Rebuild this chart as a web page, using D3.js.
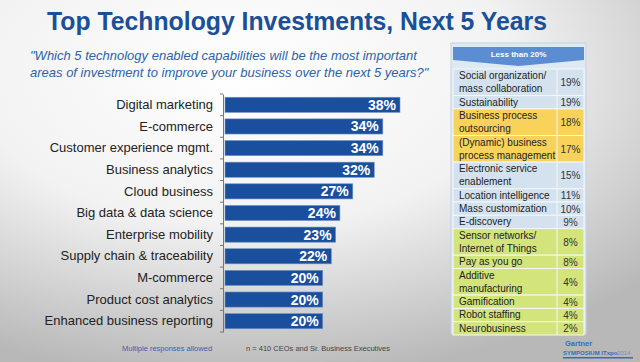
<!DOCTYPE html>
<html>
<head>
<meta charset="utf-8">
<script src="https://cdn.jsdelivr.net/npm/d3@7"></script>
<style>
  body { margin: 0; padding: 0; overflow: hidden; }
  svg { display: block; font-family: "Liberation Sans", Arial, sans-serif; }
</style>
</head>
<body>
<svg id="chart" width="640" height="362"></svg>
<script>
// main bars
const categories = ["Digital marketing", "E-commerce", "Customer experience mgmt.", "Business analytics",
  "Cloud business", "Big data & data science", "Enterprise mobility", "Supply chain & traceability",
  "M-commerce", "Product cost analytics", "Enhanced business reporting"]
const values = [38, 34, 34, 32, 27, 24, 23, 22, 20, 20, 20]

// side table "Less than 20%"
const sideItems = [["Social organization/", "mass collaboration"], ["Sustainability"],
  ["Business process", "outsourcing"], ["(Dynamic) business", "process management"],
  ["Electronic service", "enablement"], ["Location intelligence"], ["Mass customization"],
  ["E-discovery"], ["Sensor networks/", "Internet of Things"], ["Pay as you go"],
  ["Additive", "manufacturing"], ["Gamification"], ["Robot staffing"], ["Neurobusiness"]]
const sideValues = [19, 19, 18, 17, 15, 11, 10, 9, 8, 8, 4, 4, 4, 2]
const sideGroup = ["b", "b", "y", "y", "b", "b", "b", "b", "g", "g", "g", "g", "g", "g"]

const groupColor = {b: "#d3e2ee", y: "#f8d25a", g: "#d2e47a"}

let svg = d3.select("#chart")

// background
let defs = svg.append("defs")
let grad = defs.append("radialGradient").attr("id", "bg")
    .attr("cx", "38%").attr("cy", "20%").attr("r", "85%")
grad.append("stop").attr("offset", "0%").attr("stop-color", "#ffffff")
grad.append("stop").attr("offset", "50%").attr("stop-color", "#f2f2f2")
grad.append("stop").attr("offset", "100%").attr("stop-color", "#b8b8b8")
svg.append("rect").attr("width", 640).attr("height", 362).attr("fill", "url(#bg)")

// title
svg.append("text")
    .attr("x", 297).attr("y", 30)
    .attr("text-anchor", "middle")
    .attr("textLength", 500).attr("lengthAdjust", "spacingAndGlyphs")
    .style("font-size", "26px").style("font-weight", "bold").style("fill", "#1b4f97")
    .text("Top Technology Investments, Next 5 Years")

// question
let q = svg.append("text").style("font-size", "13px").style("font-style", "italic").style("fill", "#2b63aa")
q.append("tspan").attr("x", 30).attr("y", 60)
    .text("\"Which 5 technology enabled capabilities will be the most important")
q.append("tspan").attr("x", 30).attr("y", 77)
    .text("areas of investment to improve your business over the next 5 years?\"")

// scales
let y = d3.scaleBand().domain(categories).range([94, 332]).paddingInner(0.3).paddingOuter(0.15)
let x = d3.scaleLinear().domain([-3, 38]).range([224, 400])

let plot = svg.append("g")

plot.selectAll(".bar")
    .data(values)
    .enter()
    .append("rect")
    .attr("class", "bar")
    .attr("x", x(-3) + 1)
    .attr("y", (d, i) => y(categories[i]))
    .attr("width", d => x(d) - x(-3) - 1)
    .attr("height", y.bandwidth())
    .style("fill", "#1a4f9e")
    .style("stroke", "#6f93c8").style("stroke-width", 0.6)

plot.selectAll(".val")
    .data(values)
    .enter()
    .append("text")
    .attr("x", d => x(d) - 4)
    .attr("y", (d, i) => y(categories[i]) + y.bandwidth() / 2 + 5)
    .attr("text-anchor", "end")
    .style("font-size", "14px").style("font-weight", "bold").style("fill", "#ffffff")
    .text(d => d + "%")

// y axis with category labels
let y_axis = d3.axisLeft(y).tickSize(0).tickPadding(10)
let ax = plot.append("g").attr("transform", `translate(${x(-3) - 1},0)`).call(y_axis)
ax.select(".domain").attr("stroke", "#777")
ax.selectAll("text").style("font-size", "13px").style("fill", "#222")
    .style("font-family", "'Liberation Sans', Arial, sans-serif")
// ticks between the bars
let bounds = categories.map(c => y(c) - y.step() * y.paddingInner() / 2)
bounds.push(y(categories[categories.length - 1]) + y.bandwidth() + y.step() * y.paddingInner() / 2)
ax.selectAll(".sep").data(bounds).enter().append("line")
    .attr("x1", -3).attr("x2", 0).attr("y1", d => d).attr("y2", d => d)
    .attr("stroke", "#777")

// footnotes
svg.append("text").attr("x", 122).attr("y", 351)
    .style("font-size", "7.5px").style("fill", "#3b62b0").text("Multiple responses allowed")
svg.append("text").attr("x", 246).attr("y", 351)
    .style("font-size", "7.5px").style("fill", "#444").text("n = 410 CEOs and Sr. Business Executives")

// side table
const tx = 453, tw = 131, colX = 557, lineH = 13.3
let side = svg.append("g")
side.append("rect").attr("x", tx - 2).attr("y", 43).attr("width", tw + 4).attr("height", 291)
    .attr("fill", "#dfe9f2").attr("stroke", "#c4d2df")
side.append("path")
    .attr("d", `M${tx},47 H${tx + tw} V60 L${tx + tw / 2},66 L${tx},60 Z`)
    .attr("fill", "#5b8dd3")
side.append("text").attr("x", tx + tw / 2).attr("y", 57).attr("text-anchor", "middle")
    .style("font-size", "8px").style("font-weight", "bold").style("fill", "#ffffff").text("Less than 20%")

let rowY = 69
let rows = sideItems.map((lines, i) => {
    let r = {lines: lines, v: sideValues[i], g: sideGroup[i], y: rowY, h: lines.length * lineH}
    rowY += r.h
    return r
})

let rg = side.selectAll(".row").data(rows).enter().append("g")
rg.append("rect").attr("x", tx).attr("y", d => d.y).attr("width", tw).attr("height", d => d.h)
    .attr("fill", d => groupColor[d.g]).attr("stroke", "#f4f7fa").attr("stroke-width", 1)
rg.append("line").attr("x1", colX).attr("x2", colX).attr("y1", d => d.y).attr("y2", d => d.y + d.h)
    .attr("stroke", "#f4f7fa")
rg.append("text")
    .attr("x", tx + 6)
    .style("font-size", "10px").style("fill", "#222")
    .selectAll("tspan").data(d => d.lines.map((t, k) => ({t: t, y: d.y + k * lineH + 10})))
    .enter().append("tspan").attr("x", tx + 6).attr("y", d => d.y).text(d => d.t)
rg.append("text")
    .attr("x", (colX + tx + tw) / 2).attr("y", d => d.y + d.h / 2 + 4)
    .attr("text-anchor", "middle")
    .style("font-size", "10px").style("fill", "#333")
    .text(d => d.v + "%")

// logo
svg.append("text").attr("x", 565).attr("y", 346)
    .style("font-size", "7.5px").style("font-weight", "bold").style("fill", "#2f6fc0").text("Gartner")
svg.append("text").attr("x", 563).attr("y", 355)
    .style("font-size", "6px").style("font-weight", "bold").style("fill", "#2f6fc0").text("SYMPOSIUM ITxpo")
svg.append("text").attr("x", 617).attr("y", 355)
    .style("font-size", "6px").style("fill", "#6b8fc4").text("2014")
svg.append("rect").attr("x", 563).attr("y", 357).attr("width", 70).attr("height", 1.5).attr("fill", "#2f6fc0")
</script>
</body>
</html>
